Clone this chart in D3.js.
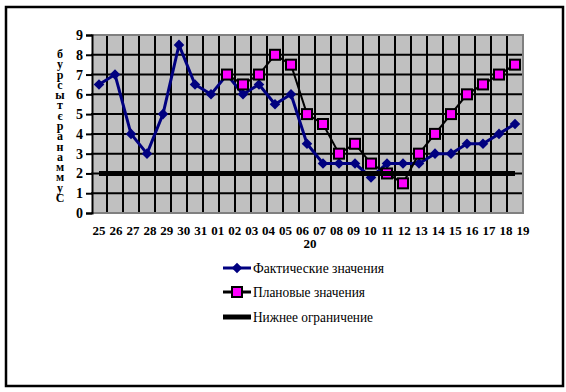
<!DOCTYPE html>
<html><head><meta charset="utf-8">
<script src="https://cdn.jsdelivr.net/npm/d3@7"></script>
<style>body{margin:0;background:#fff}svg{display:block}</style>
</head><body>
<svg id="c" width="566" height="392"></svg>
<script>
const categories = ["25","26","27","28","29","30","31","01","02","03","04","05","06","07","08","09","10","11","12","13","14","15","16","17","18","19","20"];
const actual = [6.5,7,4,3,5,8.5,6.5,6,7,6,6.5,5.5,6,3.5,2.5,2.5,2.5,1.8,2.5,2.5,2.5,3,3,3.5,3.5,4,4.5];
const plan = [null,null,null,null,null,null,null,null,7,6.5,7,8,7.5,5,4.5,3,3.5,2.5,2,1.5,3,4,5,6,6.5,7,7.5];
const lowerLimit = categories.map(() => 2);
const yTicks = [0,1,2,3,4,5,6,7,8,9];
const yTitle = "бурсытєранаммуС";
const seriesNames = ["Фактические значения","Плановые значения","Нижнее ограничение"];

const svg = d3.select("#c");
const L = 91, R = 523, T = 35, B = 213;
const x = d3.scaleBand().domain(d3.range(categories.length)).range([L, R]);
const cx = i => x(i) + x.bandwidth()/2;
const y = d3.scaleLinear().domain([0,9]).range([B, T]);

// outer frame
svg.append("rect").attr("x",6).attr("y",7).attr("width",557).attr("height",379)
  .attr("fill","#fff").attr("stroke","#000").attr("stroke-width",2.5);

// plot area
svg.append("rect").attr("x",L+1).attr("y",T).attr("width",R-L-1).attr("height",B-T).attr("fill","#c0c0c0");
// vertical grid
svg.append("g").selectAll("line").data(d3.range(1, categories.length)).join("line")
  .attr("x1", i => x(i)).attr("x2", i => x(i)).attr("y1", T).attr("y2", B)
  .attr("stroke","#000").attr("stroke-width",2);
// horizontal grid
svg.append("g").selectAll("line").data(yTicks.filter(t => t>0 && t<9)).join("line")
  .attr("x1", L).attr("x2", R).attr("y1", d => y(d)).attr("y2", d => y(d))
  .attr("stroke","#000").attr("stroke-width",2);
// border gray
svg.append("path").attr("d",`M${L},${T}H${R}V${B}H${L}`).attr("fill","none").attr("stroke","#808080").attr("stroke-width",2);

// y axis
const yAxis = d3.axisLeft(y).tickValues(yTicks).tickSize(6).tickPadding(3).tickFormat(d3.format("d"));
const ga = svg.append("g").attr("transform",`translate(${L+1},0)`).call(yAxis);
ga.select(".domain").attr("stroke","#000").attr("stroke-width",2);
ga.selectAll(".tick line").attr("stroke","#000").attr("stroke-width",2);
ga.selectAll(".tick text").attr("font-family","'Liberation Serif', serif").attr("font-weight","bold")
  .attr("font-size",14).attr("fill","#000");

// y title: stacked letters as one vertical text
svg.append("text")
  .attr("x",60).attr("y",47)
  .attr("writing-mode","vertical-rl")
  .style("text-orientation","upright")
  .attr("font-family","'Liberation Serif', serif").attr("font-weight","bold").attr("font-size",12)
  .attr("textLength",158).attr("lengthAdjust","spacing")
  .text(yTitle);

// x labels (Excel overflow spacing)
const mainLabels = categories.slice(0, categories.length-1);
const lx = d3.scalePoint().domain(d3.range(mainLabels.length)).range([99, 523]);
svg.append("g").selectAll("text").data(mainLabels).join("text")
  .attr("x",(d,i)=>lx(i)).attr("y",235).attr("text-anchor","middle")
  .attr("font-family","'Liberation Serif', serif").attr("font-weight","bold").attr("font-size",13)
  .text(d=>d);
svg.append("text").attr("x",310).attr("y",248).attr("text-anchor","middle")
  .attr("font-family","'Liberation Serif', serif").attr("font-weight","bold").attr("font-size",13)
  .text(categories[categories.length-1]);

// actual series
const line = d3.line().defined(d => d.v != null).x(d => cx(d.i)).y(d => y(d.v));
const aData = actual.map((v,i)=>({i,v}));
svg.append("path").datum(aData).attr("d",line).attr("fill","none").attr("stroke","#000080").attr("stroke-width",3);
svg.append("g").selectAll("path").data(aData).join("path")
  .attr("d",d3.symbol().type(d3.symbolSquare).size(56))
  .attr("transform",d=>`translate(${cx(d.i)},${y(d.v)}) rotate(45)`).attr("fill","#000080");

// plan series
const pData = plan.map((v,i)=>({i,v})).filter(d=>d.v!=null);
svg.append("path").datum(pData).attr("d",line).attr("fill","none").attr("stroke","#000").attr("stroke-width",2);
svg.append("g").selectAll("rect").data(pData).join("rect")
  .attr("x",d=>cx(d.i)-5).attr("y",d=>y(d.v)-5).attr("width",10).attr("height",10)
  .attr("fill","#ff00ff").attr("stroke","#000").attr("stroke-width",2);

// lower limit
const lData = lowerLimit.map((v,i)=>({i,v}));
svg.append("path").datum(lData).attr("d",line).attr("fill","none").attr("stroke","#000").attr("stroke-width",5);

// legend
const legY = [268,292,317];
const lg = svg.append("g");
lg.append("line").attr("x1",223).attr("x2",251).attr("y1",legY[0]).attr("y2",legY[0]).attr("stroke","#000080").attr("stroke-width",3);
lg.append("path").attr("d",d3.symbol().type(d3.symbolSquare).size(56)).attr("transform",`translate(237,${legY[0]}) rotate(45)`).attr("fill","#000080");
lg.append("line").attr("x1",223).attr("x2",251).attr("y1",legY[1]).attr("y2",legY[1]).attr("stroke","#000").attr("stroke-width",3);
lg.append("rect").attr("x",232).attr("y",legY[1]-5).attr("width",10).attr("height",10).attr("fill","#ff00ff").attr("stroke","#000").attr("stroke-width",2);
lg.append("line").attr("x1",223).attr("x2",251).attr("y1",legY[2]).attr("y2",legY[2]).attr("stroke","#000").attr("stroke-width",5);
const legW = [131,112,120];
lg.selectAll("text").data(seriesNames).join("text")
  .attr("x",253).attr("y",(d,i)=>legY[i]+5)
  .attr("font-family","'Liberation Serif', serif").attr("font-size",14)
  .attr("textLength",(d,i)=>legW[i]).attr("lengthAdjust","spacingAndGlyphs")
  .text(d=>d);
</script>
</body></html>
